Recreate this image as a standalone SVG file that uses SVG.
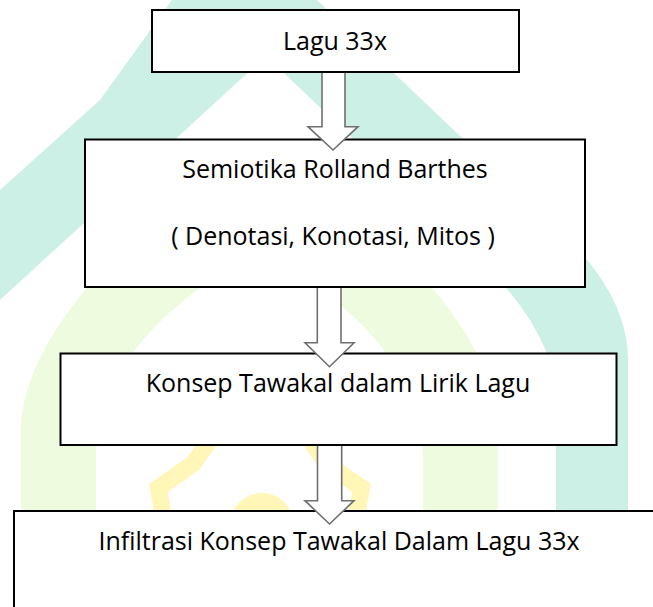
<svg xmlns="http://www.w3.org/2000/svg" width="653" height="607" viewBox="0 0 653 607">
  <style>
    .box { fill: #ffffff; stroke: #000000; stroke-width: 2; }
    .lbl { font-family: "Open Sans", "Noto Sans", "Liberation Sans", sans-serif; font-size: 25px; fill: #000000; text-anchor: middle; }
    .arrow { fill: #ffffff; stroke: #6f6f6f; stroke-width: 1.6; stroke-linejoin: miter; }
  </style>
  <rect width="653" height="607" fill="#ffffff"/>
  <g id="watermark">
    <path fill="#ccefe6" fill-rule="evenodd" d="M -150 720 L -150 330 L 0 190 L 100 100 L 172 0 L 231 -82 L 317 0 L 560 231 Q 628 295 628 360 L 628 720 Z M -60 720 L -60 355 L 0 300 L 266 56 L 472 252 Q 556 331 556 400 L 556 720 Z"/>
    <path fill="#eefbdf" fill-rule="evenodd" d="M 21 620 L 21 430 C 21 340 129 220 259.5 150 C 390 220 498 340 498 430 L 498 620 Z M 96 620 L 96 460 C 96 340 219 275 259.5 250 C 300 275 423 340 423 460 L 423 620 Z"/>
    <polygon fill="none" stroke="#fff6b8" stroke-width="17" stroke-linejoin="miter" points="354,530 361.6,487.9 326.5,463.5 302.1,428.4 260,436 217.9,428.4 193.5,463.5 158.4,487.9 166,530 158.4,572.1 193.5,596.5 217.9,631.6 260,624 302.1,631.6 326.5,596.5 361.6,572.1"/>
    <circle cx="262" cy="525" r="32" fill="#fff6b8"/>
  </g>
  <g id="node-lagu">
    <rect class="box" x="152" y="10" width="367" height="62"/>
    <text class="lbl" x="335" y="49.5">Lagu 33x</text>
  </g>
  <g id="node-semiotika">
    <rect class="box" x="85" y="139.5" width="500" height="147.5"/>
    <text class="lbl" x="335" y="178">Semiotika Rolland Barthes</text>
    <text class="lbl" x="333" y="245">( Denotasi, Konotasi, Mitos )</text>
  </g>
  <g id="node-konsep">
    <rect class="box" x="60.5" y="353.5" width="556" height="91.5"/>
    <text class="lbl" x="338" y="391.5">Konsep Tawakal dalam Lirik Lagu</text>
  </g>
  <g id="node-infiltrasi">
    <rect class="box" x="14" y="511" width="700" height="200"/>
    <text class="lbl" x="339" y="550">Infiltrasi Konsep Tawakal Dalam Lagu 33x</text>
  </g>
  <g id="connectors">
    <path class="arrow" d="M 322 73 L 322 126.7 L 308 126.7 L 333 150 L 358 126.7 L 345 126.7 L 345 73"/>
    <path class="arrow" d="M 317.3 288 L 317.3 342.7 L 305 342.7 L 329.5 366.7 L 354 342.7 L 341 342.7 L 341 288"/>
    <path class="arrow" d="M 317.5 446 L 317.5 500.7 L 305 500.7 L 329.5 524 L 354 500.7 L 341.7 500.7 L 341.7 446"/>
  </g>
</svg>
